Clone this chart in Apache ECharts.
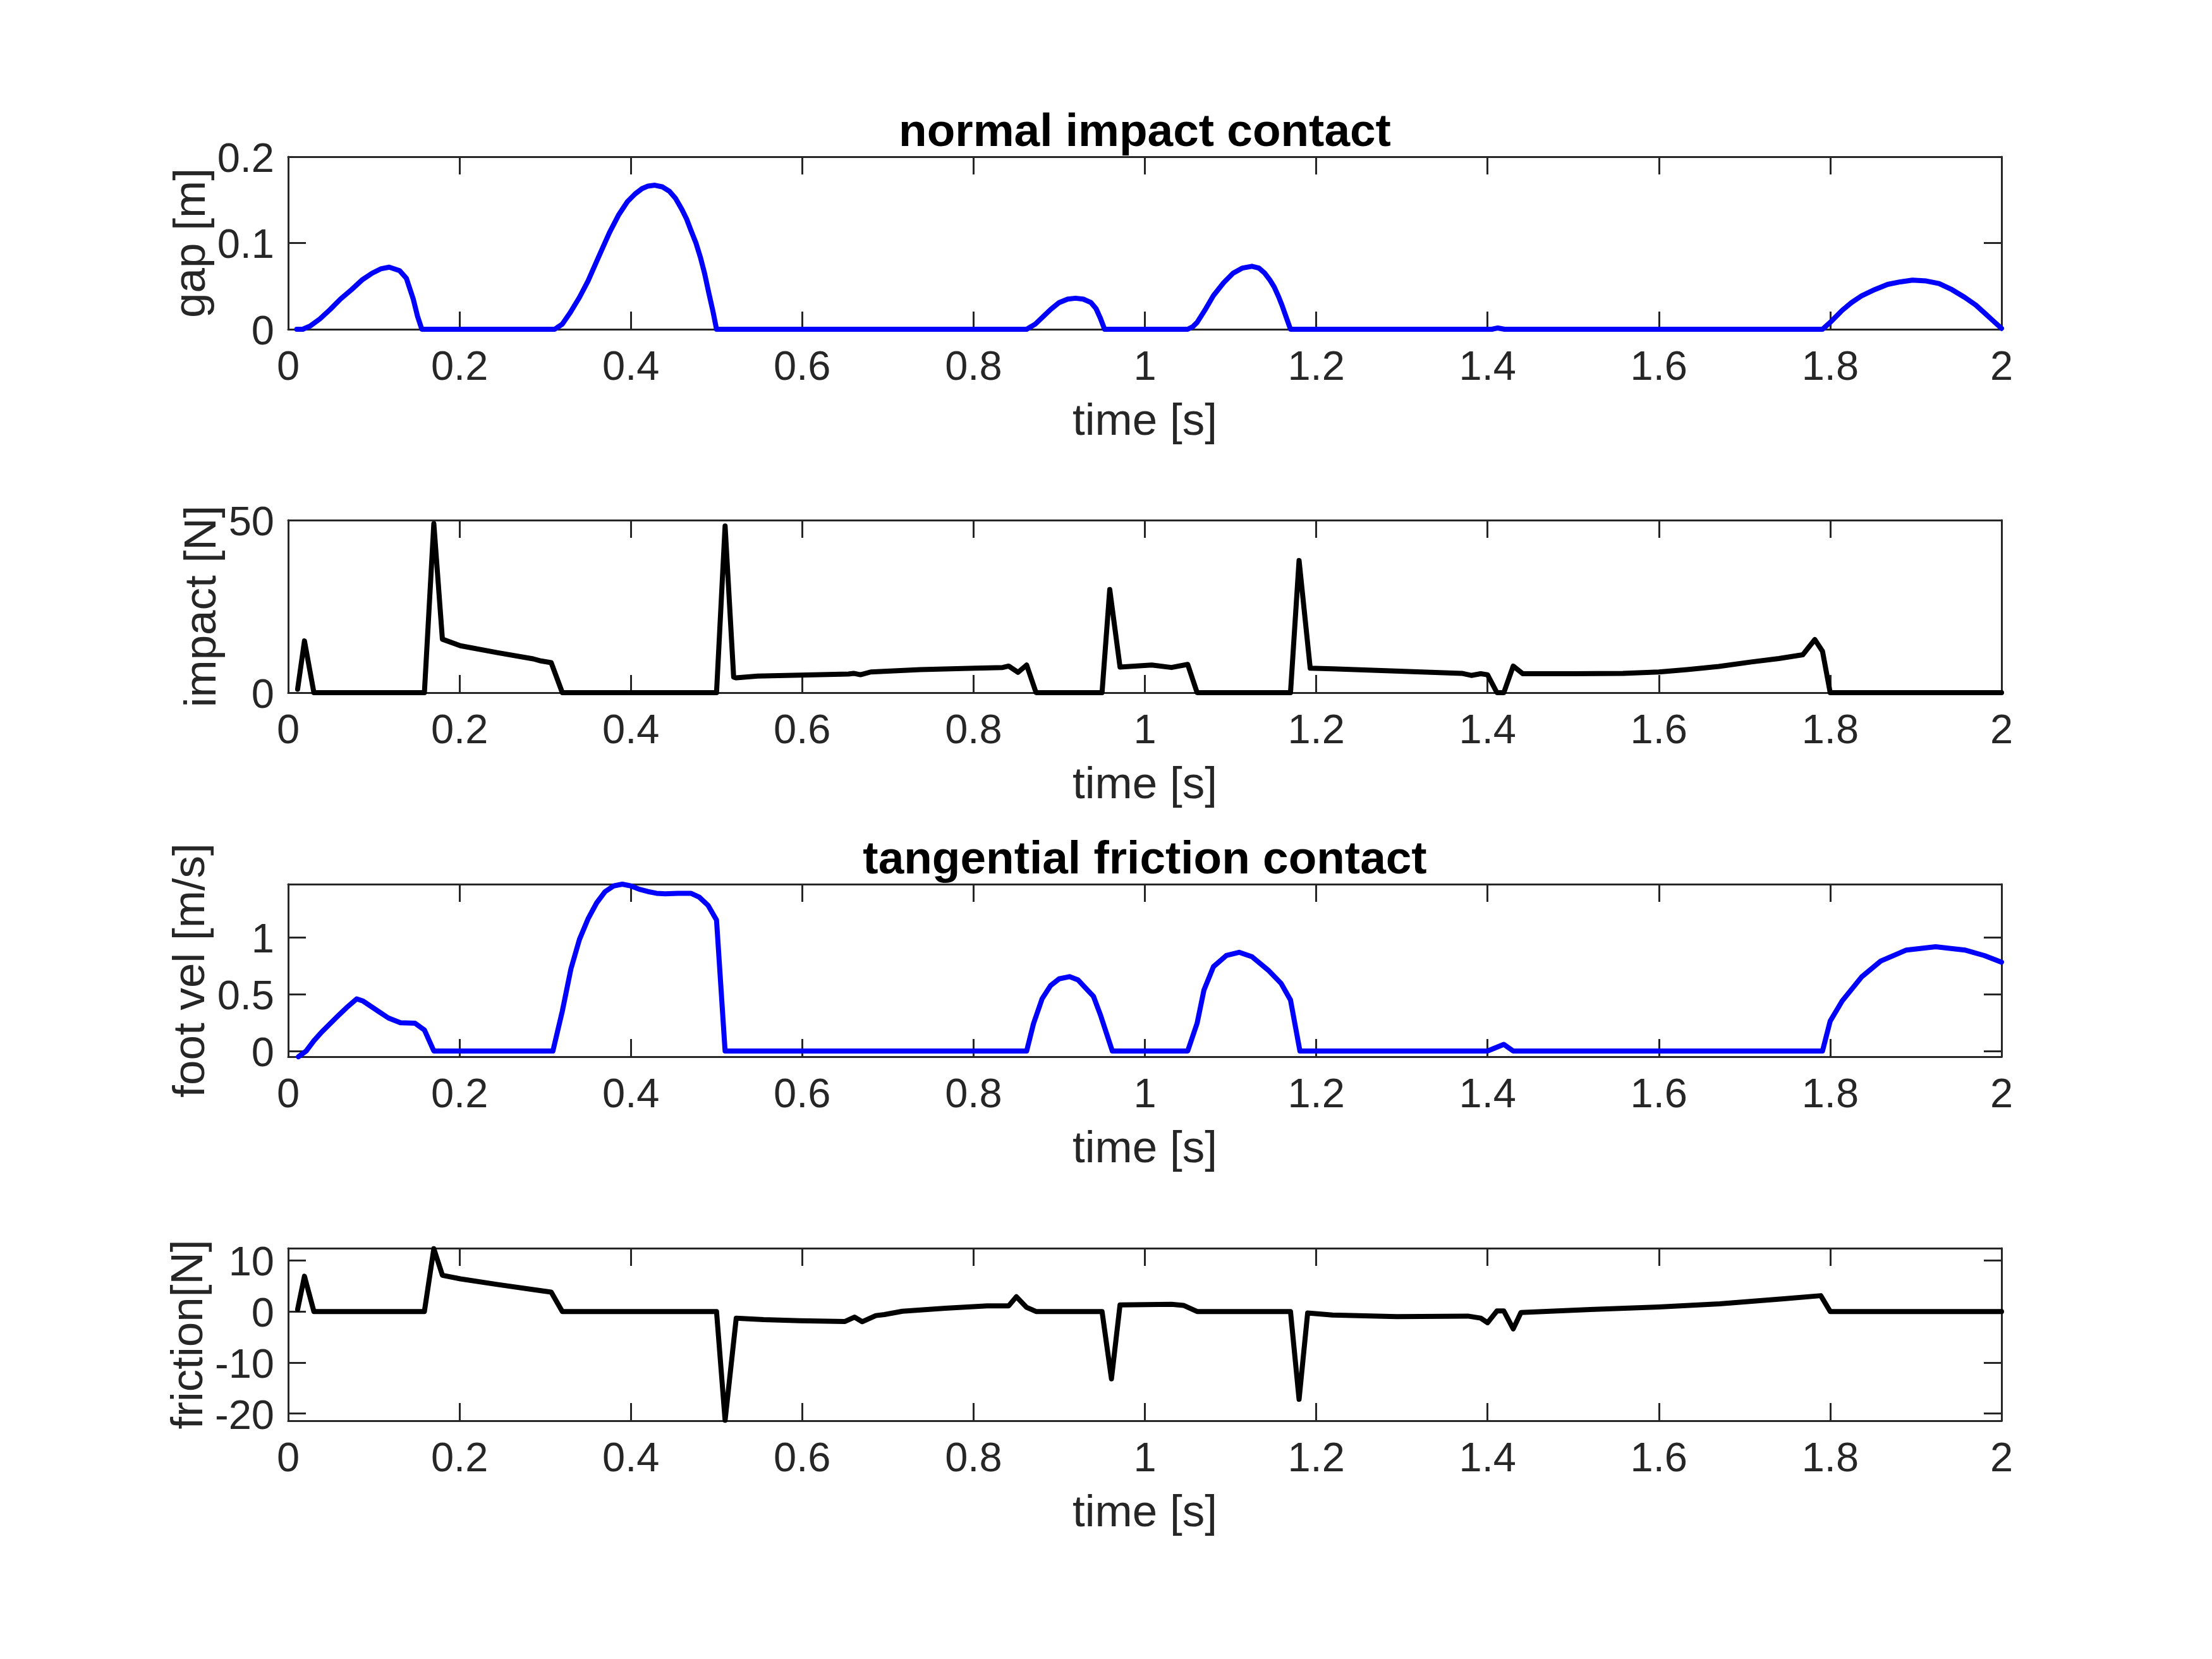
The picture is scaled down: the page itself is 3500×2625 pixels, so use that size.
<!DOCTYPE html>
<html lang="en">
<head>
<meta charset="UTF-8">
<script src="https://cdn.jsdelivr.net/npm/echarts@6/dist/echarts.min.js"></script>
<style>
  html, body { margin: 0; padding: 0; background: #fff; }
  #chart { width: 3500px; height: 2625px; }
</style>
</head>
<body>
<div id="chart"></div>
<script>
// gap [m]
const gapT = [0.01, 0.017, 0.026, 0.037, 0.049, 0.061, 0.074, 0.086, 0.098, 0.108, 0.118, 0.13, 0.138, 0.146, 0.151, 0.156,
  0.311, 0.32, 0.329, 0.34, 0.35, 0.362, 0.375, 0.386, 0.396, 0.405, 0.413, 0.42, 0.428, 0.437, 0.445, 0.452, 0.459, 0.465, 0.47, 0.476, 0.481, 0.486, 0.491, 0.496, 0.5,
  0.862, 0.872, 0.88, 0.89, 0.9, 0.91, 0.919, 0.928, 0.937, 0.943, 0.948, 0.953,
  1.05, 1.056, 1.061, 1.07, 1.08, 1.092, 1.103, 1.114, 1.125, 1.133, 1.14, 1.146, 1.151, 1.156, 1.16, 1.165, 1.17,
  1.405, 1.412, 1.42,
  1.791, 1.8, 1.814, 1.825, 1.837, 1.852, 1.867, 1.882, 1.896, 1.912, 1.927, 1.942, 1.957, 1.97, 1.98, 1.99, 2.0];
const gapV = [0, 0, 0.004, 0.012, 0.023, 0.035, 0.046, 0.057, 0.065, 0.07, 0.072, 0.068, 0.059, 0.035, 0.015, 0,
  0, 0.006, 0.019, 0.037, 0.056, 0.083, 0.112, 0.133, 0.148, 0.157, 0.163, 0.166, 0.167, 0.165, 0.16, 0.152, 0.14, 0.128, 0.115, 0.1, 0.084, 0.065, 0.042, 0.02, 0,
  0, 0.006, 0.0135, 0.023, 0.031, 0.035, 0.036, 0.035, 0.031, 0.024, 0.013, 0,
  0, 0.003, 0.008, 0.022, 0.039, 0.054, 0.065, 0.071, 0.073, 0.071, 0.065, 0.057, 0.049, 0.038, 0.028, 0.014, 0,
  0, 0.0015, 0,
  0, 0.008, 0.022, 0.031, 0.039, 0.046, 0.052, 0.055, 0.057, 0.056, 0.053, 0.046, 0.037, 0.028, 0.019, 0.01, 0.001];

// impact [N]
const impT = [0.011, 0.019, 0.03, 0.159, 0.17, 0.18, 0.201, 0.244, 0.286, 0.295, 0.307, 0.32,
  0.5, 0.51, 0.52, 0.523, 0.548, 0.597, 0.654, 0.66, 0.668, 0.68, 0.738, 0.802, 0.834, 0.841, 0.852, 0.862, 0.873,
  0.95, 0.959, 0.971, 1.008, 1.031, 1.05, 1.061,
  1.17, 1.18, 1.193, 1.219, 1.37, 1.381, 1.392, 1.4, 1.411, 1.419, 1.43, 1.441, 1.5, 1.558, 1.6, 1.633, 1.67, 1.708, 1.74, 1.768, 1.782, 1.791, 1.8, 2.0];
const impV = [1, 15, 0, 0, 49, 15.5, 13.6, 11.6, 9.8, 9.2, 8.7, 0,
  0, 48.3, 4.5, 4.3, 4.8, 5.1, 5.4, 5.6, 5.2, 6, 6.7, 7.1, 7.3, 7.7, 5.9, 8.0, 0,
  0, 29.9, 7.4, 8.0, 7.3, 8.2, 0,
  0, 38.3, 7.1, 6.9, 5.6, 5.0, 5.5, 5.2, 0, 0, 7.7, 5.5, 5.5, 5.6, 6.0, 6.7, 7.6, 8.9, 9.9, 11, 15.4, 12, 0, 0];

// foot vel [m/s]
const velT = [0.012, 0.021, 0.03, 0.039, 0.057, 0.068, 0.08, 0.087, 0.095, 0.106, 0.117, 0.131, 0.148, 0.159, 0.17,
  0.309, 0.32, 0.33, 0.34, 0.35, 0.36, 0.37, 0.38, 0.39, 0.4, 0.41, 0.42, 0.43, 0.44, 0.455, 0.47, 0.48, 0.49, 0.5, 0.51,
  0.862, 0.87, 0.88, 0.89, 0.9, 0.912, 0.922, 0.933, 0.94, 0.948, 0.962,
  1.05, 1.061, 1.069, 1.08, 1.095, 1.11, 1.125, 1.144, 1.159, 1.17, 1.181,
  1.4, 1.419, 1.43,
  1.791, 1.8, 1.814, 1.837, 1.859, 1.889, 1.923, 1.957, 1.98, 2.0];
const velV = [-0.05, 0, 0.09, 0.166, 0.3, 0.38, 0.458, 0.44, 0.4, 0.345, 0.29, 0.248, 0.244, 0.185, 0,
  0, 0.35, 0.72, 0.98, 1.16, 1.3, 1.4, 1.45, 1.465, 1.45, 1.42, 1.4, 1.385, 1.38, 1.385, 1.385, 1.35, 1.28, 1.15, 0,
  0, 0.24, 0.458, 0.575, 0.634, 0.653, 0.624, 0.536, 0.48, 0.32, 0,
  0, 0.244, 0.536, 0.74, 0.838, 0.867, 0.828, 0.71, 0.594, 0.448, 0,
  0, 0.058, 0,
  0, 0.263, 0.44, 0.653, 0.79, 0.887, 0.916, 0.887, 0.838, 0.78];

// friction [N]
const fricT = [0.011, 0.019, 0.03, 0.159, 0.17, 0.18, 0.201, 0.244, 0.286, 0.307, 0.32,
  0.5, 0.51, 0.523, 0.555, 0.597, 0.65, 0.661, 0.67, 0.686, 0.696, 0.717, 0.767, 0.816, 0.841, 0.85, 0.862, 0.873,
  0.95, 0.961, 0.971, 1.031, 1.045, 1.061,
  1.17, 1.18, 1.19, 1.219, 1.294, 1.377, 1.392, 1.4, 1.411, 1.419, 1.43, 1.439, 1.52, 1.6, 1.671, 1.746, 1.789, 1.8, 2.0];
const fricV = [0.4, 6.9, 0, 0, 12.3, 7.1, 6.4, 5.3, 4.3, 3.8, 0,
  0, -21.3, -1.3, -1.6, -1.8, -1.95, -1.1, -2.0, -0.8, -0.6, 0.05, 0.65, 1.1, 1.1, 2.9, 0.8, 0,
  0, -13.2, 1.3, 1.4, 1.2, 0,
  0, -17.2, -0.3, -0.7, -1.0, -0.9, -1.3, -2.2, 0.1, 0.1, -3.4, -0.2, 0.4, 0.9, 1.5, 2.5, 3.1, 0, 0];

// tick values
const velTicks = [0, 0.5, 1];
const fricTicks = [-20, -10, 0, 10];

const titles = ['normal impact contact', 'tangential friction contact'];

const axisColor = '#262626';
const fontName = 'Liberation Sans';
const gridTops = [248, 823, 1399, 1975];
const gridH = 273;
const gridLeft = 456;
const gridRight = 333;

const pairs = (t, v) => t.map((x, i) => [x, v[i]]);

const lineAxis = { show: true, onZero: false, lineStyle: { color: axisColor, width: 3 } };
const tickStyle = { color: axisColor, width: 3 };

function makeX(k) {
  const base = {
    type: 'value', gridIndex: k, min: 0, max: 2, interval: 0.2,
    axisLine: lineAxis, splitLine: { show: false }
  };
  return [
    Object.assign({}, base, {
      position: 'bottom',
      name: 'time [s]', nameLocation: 'middle', nameGap: 112, nameMoveOverlap: false,
      nameTextStyle: { fontFamily: fontName, fontSize: 71, color: axisColor },
      axisTick: { show: true, inside: true, length: 28, lineStyle: tickStyle },
      axisLabel: { show: true, margin: 30, fontFamily: fontName, fontSize: 65, color: axisColor }
    }),
    Object.assign({}, base, {
      position: 'top',
      axisTick: { show: true, inside: true, length: 28, lineStyle: tickStyle },
      axisLabel: { show: false }
    })
  ];
}

function makeY(k, name, gap, range) {
  const base = {
    type: 'value', gridIndex: k, min: range.min, max: range.max,
    axisLine: lineAxis, splitLine: { show: false }
  };
  if (range.interval) base.interval = range.interval;
  const tick = { show: true, inside: true, length: 28, lineStyle: tickStyle };
  // labels sit a little below their tick, as in the original
  const label = { show: true, margin: 22, verticalAlign: 'top', lineHeight: 12,
    fontFamily: fontName, fontSize: 65, color: axisColor };
  if (range.ticks) {
    tick.customValues = range.ticks;
    label.customValues = range.ticks;
  }
  return [
    Object.assign({}, base, {
      position: 'left',
      name: name, nameLocation: 'middle', nameRotate: 90, nameGap: gap, nameMoveOverlap: false,
      nameTextStyle: { fontFamily: fontName, fontSize: 71, color: axisColor },
      axisTick: tick, axisLabel: label
    }),
    Object.assign({}, base, {
      position: 'right',
      axisTick: Object.assign({}, tick), axisLabel: { show: false }
    })
  ];
}

const grids = gridTops.map(t => ({
  left: gridLeft, right: gridRight, top: t, height: gridH, containLabel: false, outerBoundsMode: 'none'
}));

const xAxes = [].concat(makeX(0), makeX(1), makeX(2), makeX(3));
const yAxes = [].concat(
  makeY(0, 'gap [m]', 116, { min: 0, max: 0.2, interval: 0.1 }),
  makeY(1, 'impact [N]', 99, { min: 0, max: 50, interval: 50 }),
  makeY(2, 'foot vel [m/s]', 117, { min: -0.05, max: 1.465, ticks: velTicks }),
  makeY(3, 'friction[N]', 120, { min: -21.4, max: 12.4, ticks: fricTicks })
);

function lineSeries(k, data, color) {
  return {
    type: 'line', xAxisIndex: 2 * k, yAxisIndex: 2 * k, data: data,
    symbol: 'none', showSymbol: false, clip: false, silent: true,
    lineStyle: { color: color, width: 8, cap: 'round', join: 'round' }
  };
}

const chart = echarts.init(document.getElementById('chart'), null, { renderer: 'canvas' });
const titleX = (gridLeft + 3500 - gridRight) / 2;
chart.setOption({
  animation: false,
  backgroundColor: '#fff',
  grid: grids,
  xAxis: xAxes,
  yAxis: yAxes,
  series: [
    lineSeries(0, pairs(gapT, gapV), '#0000ff'),
    lineSeries(1, pairs(impT, impV), '#000000'),
    lineSeries(2, pairs(velT, velV), '#0000ff'),
    lineSeries(3, pairs(fricT, fricV), '#000000')
  ],
  graphic: [
    {
      type: 'text', x: titleX, y: gridTops[0] - 37,
      style: { text: titles[0], font: 'bold 73px "Liberation Sans"', fill: '#000',
        align: 'center', verticalAlign: 'middle', textAlign: 'center', textVerticalAlign: 'middle' }
    },
    {
      type: 'text', x: titleX, y: gridTops[2] - 37,
      style: { text: titles[1], font: 'bold 73px "Liberation Sans"', fill: '#000',
        align: 'center', verticalAlign: 'middle', textAlign: 'center', textVerticalAlign: 'middle' }
    }
  ]
});
</script>
</body>
</html>
